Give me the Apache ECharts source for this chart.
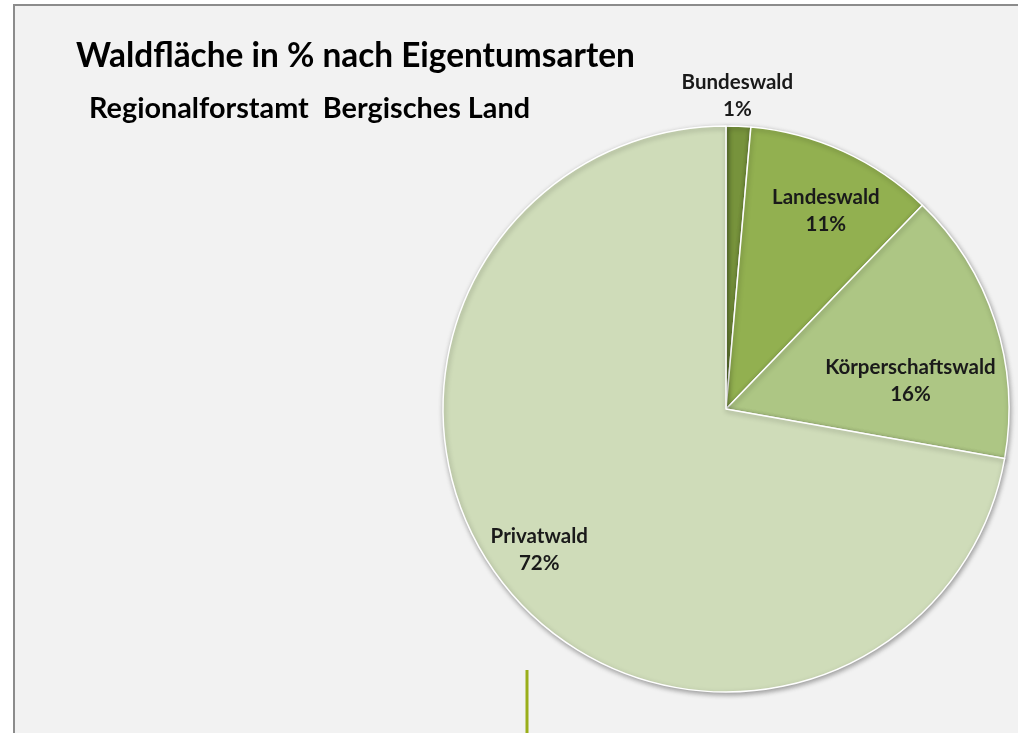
<!DOCTYPE html>
<html>
<head>
<meta charset="utf-8">
<script src="https://cdn.jsdelivr.net/npm/echarts@6/dist/echarts.min.js"></script>
<style>
html,body{margin:0;padding:0;background:#ffffff;}
#chart{width:1018px;height:733px;}
</style>
</head>
<body>
<div id="chart"></div>
<script>
// Data
const categories = ['Bundeswald', 'Landeswald', 'Körperschaftswald', 'Privatwald'];
const shares = [1.4, 10.8, 15.6, 72.2];
const titleText = 'Waldfläche in % nach Eigentumsarten';
const subtitleText = 'Regionalforstamt  Bergisches Land';

// Styles (not data)
const sliceColors = ['#77933c', '#92b050', '#adc684', '#cfdcb9'];
const labelShift = [[5, -169], [40, -67], [47, 17], [-76, 48]];

const chart = echarts.init(document.getElementById('chart'), null, {renderer: 'canvas'});
const font = 'Lato, "Open Sans", sans-serif';

chart.setOption({
  backgroundColor: '#ffffff',
  animation: false,
  graphic: [
    {type: 'rect', z: -10, shape: {x: 14, y: 5, width: 1100, height: 800},
     style: {fill: '#f2f2f2', stroke: '#8c8c8c', lineWidth: 2}},
    {type: 'line', z: 10, shape: {x1: 527, y1: 670, x2: 527, y2: 740},
     style: {stroke: '#9aaf1a', lineWidth: 3}}
  ],
  title: [
    {text: titleText, left: 71, top: 35, padding: 5,
     textStyle: {fontFamily: font, fontSize: 33.4, fontWeight: 'bold', color: '#000000'}},
    {text: subtitleText, left: 84, top: 89, padding: 5,
     textStyle: {fontFamily: font, fontSize: 28.8, fontWeight: 'bold', color: '#000000'}}
  ],
  series: [{
    type: 'pie',
    center: [726, 409],
    radius: 283,
    startAngle: 90,
    clockwise: true,
    percentPrecision: 0,
    avoidLabelOverlap: false,
    data: categories.map((c, i) => ({
      name: c, value: shares[i], itemStyle: {color: sliceColors[i]}
    })),
    itemStyle: {
      borderColor: '#ffffff', borderWidth: 1.5,
      shadowBlur: 5, shadowColor: 'rgba(0,0,0,0.35)', shadowOffsetX: 1, shadowOffsetY: 2
    },
    label: {
      show: true, position: 'inside', formatter: '{b}\n{d}%',
      fontFamily: font, fontSize: 20.5, fontWeight: 'bold', color: '#1a1a1a',
      lineHeight: 27, align: 'center'
    },
    labelLine: {show: false},
    labelLayout: function (p) {
      const s = labelShift[p.dataIndex];
      return {dx: s[0], dy: s[1]};
    },
    emphasis: {disabled: true}
  }]
});
</script>
</body>
</html>
